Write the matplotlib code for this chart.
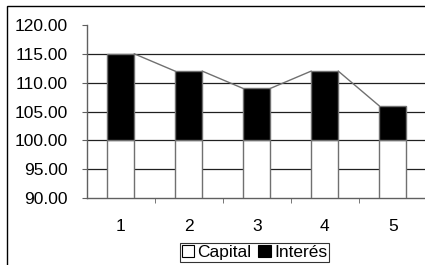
import matplotlib
matplotlib.use("Agg")
import matplotlib.pyplot as plt
from matplotlib.patches import Rectangle

categories = [1, 2, 3, 4, 5]
capital = [100, 100, 100, 100, 100]
interes = [15, 12, 9, 12, 6]
y_ticks = [90, 95, 100, 105, 110, 115, 120]
base = 90

plt.rcParams['font.family'] = ['Liberation Sans', 'DejaVu Sans']

W, H = 425, 265
fig = plt.figure(figsize=(W / 100, H / 100), dpi=100)

# outer chart border
fig.patches.append(Rectangle((7 / W, -0.1), 1.2, 1 - 6 / H + 0.1, transform=fig.transFigure,
                             fill=False, edgecolor='black', lw=1.0))

left, right_px = 86.7, 86.7 + 340
top, bottom = 25, 198
ax = fig.add_axes([left / W, 1 - bottom / H, (right_px - left) / W, (bottom - top) / H])

bw = 0.4
cap_h = [c - base for c in capital]
tops = [c + i for c, i in zip(capital, interes)]
ax.bar(categories, cap_h, bottom=base, width=bw, color='white', edgecolor='#707070', lw=1.0, zorder=3)
ax.bar(categories, interes, bottom=capital, width=bw, color='black', edgecolor='#707070', lw=1.0, zorder=3)

# series lines between bars
for k in range(len(categories) - 1):
    ax.plot([categories[k] + bw / 2, categories[k + 1] - bw / 2], [tops[k], tops[k + 1]],
            color='#707070', lw=1.0, zorder=4)

for y in y_ticks[1:-1]:
    ax.axhline(y, color='#202020', lw=0.9, zorder=1)

fs = 12.5
ax.set_xlim(0.5, 5.5)
ax.set_ylim(90, 120)
ax.set_yticks(y_ticks)
ax.set_yticklabels([f"{v:.2f}" for v in y_ticks], fontsize=fs)
ax.set_xticks(categories)
ax.set_xticklabels([str(c) for c in categories], fontsize=fs)
ax.tick_params(axis='x', which='major', length=0, pad=15)
ax.set_xticks([c + 0.5 for c in categories[:-1]], minor=True)
ax.tick_params(axis='x', which='minor', length=3.4, direction='out', color='#606060')
ax.tick_params(axis='y', length=3.4, direction='out', color='#606060', pad=10)

for s in ['top', 'right']:
    ax.spines[s].set_visible(False)
for s in ['left', 'bottom']:
    ax.spines[s].set_color('#606060')
    ax.spines[s].set_linewidth(1.0)
ax.patch.set_visible(False)

handles = [Rectangle((0, 0), 1, 1, facecolor='white', edgecolor='black', lw=0.8),
           Rectangle((0, 0), 1, 1, facecolor='black', edgecolor='black', lw=0.8)]
leg = fig.legend(handles, ['Capital', 'Interés'], loc='upper left',
                 bbox_to_anchor=(180 / W, 1 - 243 / H), ncol=2, fontsize=fs,
                 frameon=True, fancybox=False, edgecolor='black', handlelength=0.7,
                 handleheight=0.7, handletextpad=0.2, columnspacing=0.4,
                 borderpad=0.1, borderaxespad=0)
leg.get_frame().set_linewidth(0.8)

fig.savefig('out.png', dpi=100)
